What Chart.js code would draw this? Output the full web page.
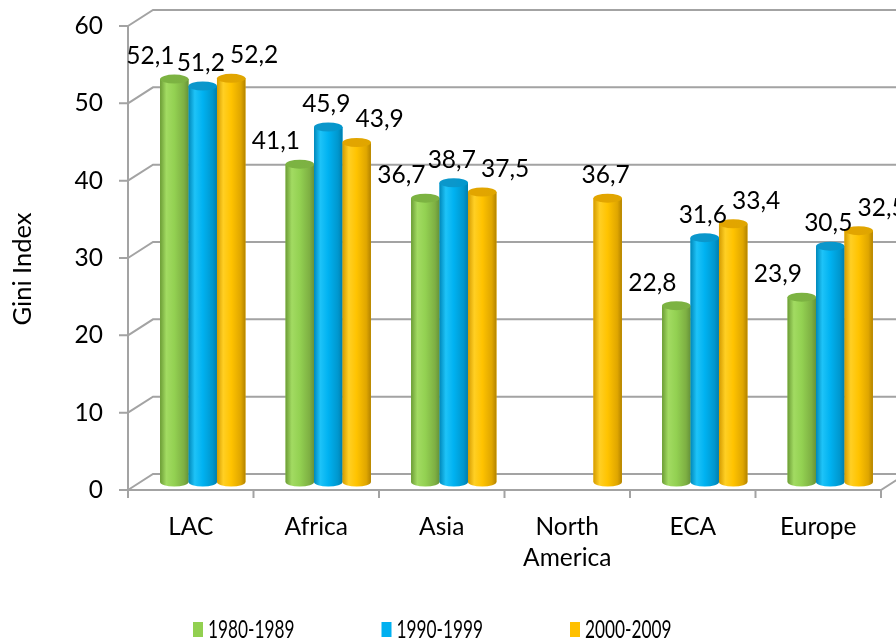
<!DOCTYPE html>
<html>
<head>
<meta charset="utf-8">
<script src="https://cdn.jsdelivr.net/npm/chart.js@4.4.1/dist/chart.umd.min.js"></script>
<style>
  html, body { margin: 0; padding: 0; background: #ffffff; }
  #wrap { width: 896px; height: 643px; }
</style>
</head>
<body>
<div id="wrap"><canvas id="chart" width="896" height="643"></canvas></div>
<script>
// Regions and Gini index per decade (null = no value for that decade)
const regions = ['LAC', 'Africa', 'Asia', ['North', 'America'], 'ECA', 'Europe'];
const decades = ['1980-1989', '1990-1999', '2000-2009'];
const gini1980s = [52.1, 41.1, 36.7, null, 22.8, 23.9];
const gini1990s = [51.2, 45.9, 38.7, null, 31.6, 30.5];
const gini2000s = [52.2, 43.9, 37.5, 36.7, 33.4, 32.5];
const yMin = 0;
const yMax = 60;
const yStep = 10;
const yTitle = 'Gini Index';

const FONT = "Lato, 'Open Sans', sans-serif";
const TEXT_SIZE = 24.5;
const GRID = '#A3A3A3';

// cylinder shading per series
const shades = [
  { base: '#92D050', top: '#7CB342', stops: ['#6C9C36', '#A2DB62', '#93D152', '#7EB043', '#66933A'] },
  { base: '#00B0F0', top: '#0B97CB', stops: ['#0088BA', '#1EC3F8', '#00B2F1', '#0097CE', '#007EAD'] },
  { base: '#FFC000', top: '#E2A500', stops: ['#D49B00', '#FFCF24', '#FFC300', '#DFA600', '#B38300'] }
];
const stopAt = [0, 0.22, 0.5, 0.84, 1];

// the plotting plane sits midway in depth; front and back planes are offset from it
const FRONT = { dx: -12, dy: 8 };
const BACK = { dx: 13, dy: -8 };

const fmt = v => v.toFixed(1).replace('.', ',');

const wallPlugin = {
  id: 'wall3d',
  beforeDatasetsDraw(chart) {
    const { ctx, chartArea: ca, scales: { y } } = chart;
    ctx.save();
    ctx.strokeStyle = GRID;
    ctx.lineWidth = 2;
    ctx.lineCap = 'butt';
    for (let v = yMin; v <= yMax; v += yStep) {
      const py = y.getPixelForValue(v);
      ctx.beginPath();
      // diagonal from front axis to back wall
      ctx.moveTo(ca.left + FRONT.dx, py + FRONT.dy);
      ctx.lineTo(ca.left + BACK.dx, py + BACK.dy);
      // back wall gridline
      ctx.lineTo(chart.width + 2, py + BACK.dy);
      // tick on the front axis
      ctx.moveTo(ca.left + FRONT.dx, py + FRONT.dy);
      ctx.lineTo(ca.left + FRONT.dx - 9, py + FRONT.dy);
      ctx.stroke();
    }
    const y0 = y.getPixelForValue(yMin) + FRONT.dy;
    const yTop = y.getPixelForValue(yMax) + FRONT.dy;
    const xl = ca.left + FRONT.dx;
    const xr = ca.right + FRONT.dx;
    ctx.beginPath();
    // front vertical axis
    ctx.moveTo(xl, yTop);
    ctx.lineTo(xl, y0 + 8);
    // front floor edge
    ctx.moveTo(xl, y0);
    ctx.lineTo(xr, y0);
    // right floor edge
    ctx.lineTo(ca.right + BACK.dx, y.getPixelForValue(yMin) + BACK.dy);
    // category boundary ticks
    const n = chart.data.labels.length;
    const step = (ca.right - ca.left) / n;
    for (let k = 1; k <= n; k++) {
      const tx = xl + k * step;
      ctx.moveTo(tx, y0);
      ctx.lineTo(tx, y0 + 8);
    }
    ctx.stroke();
    ctx.restore();
  }
};

const cylinderPlugin = {
  id: 'cylinders',
  afterDatasetsDraw(chart) {
    const ctx = chart.ctx;
    chart.data.datasets.forEach((ds, di) => {
      const meta = chart.getDatasetMeta(di);
      if (meta.hidden) return;
      const sh = shades[di];
      meta.data.forEach((el, i) => {
        if (ds.data[i] == null) return;
        const w = el.width, cx = el.x, top = el.y, base = el.base;
        const rx = w / 2, ry = 4.5;
        const g = ctx.createLinearGradient(cx - rx, 0, cx + rx, 0);
        sh.stops.forEach((c, k) => g.addColorStop(stopAt[k], c));
        ctx.save();
        ctx.fillStyle = g;
        ctx.beginPath();
        ctx.moveTo(cx - rx, top);
        ctx.lineTo(cx - rx, base);
        ctx.ellipse(cx, base, rx, ry, 0, Math.PI, 0, true);
        ctx.lineTo(cx + rx, top);
        ctx.closePath();
        ctx.fill();
        const tg = ctx.createLinearGradient(cx - rx, 0, cx + rx, 0);
        tg.addColorStop(0, sh.top);
        tg.addColorStop(0.5, sh.top);
        tg.addColorStop(1, sh.stops[3]);
        ctx.fillStyle = tg;
        ctx.beginPath();
        ctx.ellipse(cx, top, rx, ry, 0, 0, Math.PI * 2);
        ctx.fill();
        ctx.restore();
      });
    });
  }
};

const labelPlugin = {
  id: 'valueLabels',
  afterDatasetsDraw(chart) {
    const ctx = chart.ctx;
    const spread = [-24, -2, 23];
    ctx.save();
    ctx.font = `${TEXT_SIZE}px ${FONT}`;
    ctx.fillStyle = '#000';
    ctx.textAlign = 'center';
    ctx.textBaseline = 'middle';
    chart.data.datasets.forEach((ds, di) => {
      const meta = chart.getDatasetMeta(di);
      meta.data.forEach((el, i) => {
        const v = ds.data[i];
        if (v == null) return;
        const count = chart.data.datasets.filter(d => d.data[i] != null).length;
        const off = count > 1 ? spread[di] : spread[1];
        ctx.fillText(fmt(v), el.x + off, el.y - 23);
      });
    });
    ctx.restore();
  }
};

const decorPlugin = {
  id: 'decor',
  afterDraw(chart) {
    const ctx = chart.ctx;
    const ca = chart.chartArea;
    ctx.save();
    // axis title
    ctx.font = `25.5px ${FONT}`;
    ctx.fillStyle = '#000';
    ctx.textAlign = 'center';
    ctx.textBaseline = 'middle';
    ctx.translate(23, (ca.top + ca.bottom) / 2 + 19);
    ctx.rotate(-Math.PI / 2);
    ctx.fillText(yTitle, 0, 0);
    ctx.restore();

    // legend row
    ctx.save();
    const startX = 193, gap = 188.5, midY = 629.5;
    chart.data.datasets.forEach((ds, di) => {
      const bx = startX + di * gap;
      ctx.fillStyle = ds.backgroundColor;
      ctx.fillRect(bx, midY - 7.5, 10, 15);
      ctx.save();
      ctx.translate(bx + 15, midY);
      ctx.scale(0.69, 1);
      ctx.font = `25px ${FONT}`;
      ctx.fillStyle = '#000';
      ctx.textAlign = 'left';
      ctx.textBaseline = 'middle';
      ctx.fillText(ds.label, 0, 0);
      ctx.restore();
    });
    ctx.restore();
  }
};

const series = [gini1980s, gini1990s, gini2000s];

new Chart(document.getElementById('chart'), {
  type: 'bar',
  data: {
    labels: regions,
    datasets: series.map((vals, i) => ({
      label: decades[i],
      data: vals,
      backgroundColor: shades[i].base,
      borderWidth: 0
    }))
  },
  options: {
    responsive: false,
    animation: false,
    devicePixelRatio: 1,
    layout: { padding: { top: 18, right: 3, left: 0, bottom: 0 } },
    datasets: { bar: { categoryPercentage: 0.68, barPercentage: 1 } },
    plugins: {
      legend: { display: false },
      tooltip: { enabled: false }
    },
    scales: {
      x: {
        grid: { display: false, drawTicks: false },
        border: { display: false },
        ticks: {
          font: { family: FONT, size: TEXT_SIZE, lineHeight: 1.25 },
          color: '#000',
          padding: 30,
          labelOffset: FRONT.dx,
          maxRotation: 0,
          autoSkip: false
        },
        afterFit(s) {
          s.height = 161;
          s.paddingLeft = 0;
          s.paddingRight = 0;
        }
      },
      y: {
        min: yMin,
        max: yMax,
        grid: { display: false, drawTicks: false },
        border: { display: false },
        ticks: {
          stepSize: yStep,
          font: { family: FONT, size: TEXT_SIZE },
          color: '#000',
          padding: 37,
          labelOffset: FRONT.dy
        },
        afterFit(s) {
          s.width = 140;
          s.paddingTop = 0;
          s.paddingBottom = 0;
        }
      }
    }
  },
  plugins: [wallPlugin, cylinderPlugin, labelPlugin, decorPlugin]
});
</script>
</body>
</html>
